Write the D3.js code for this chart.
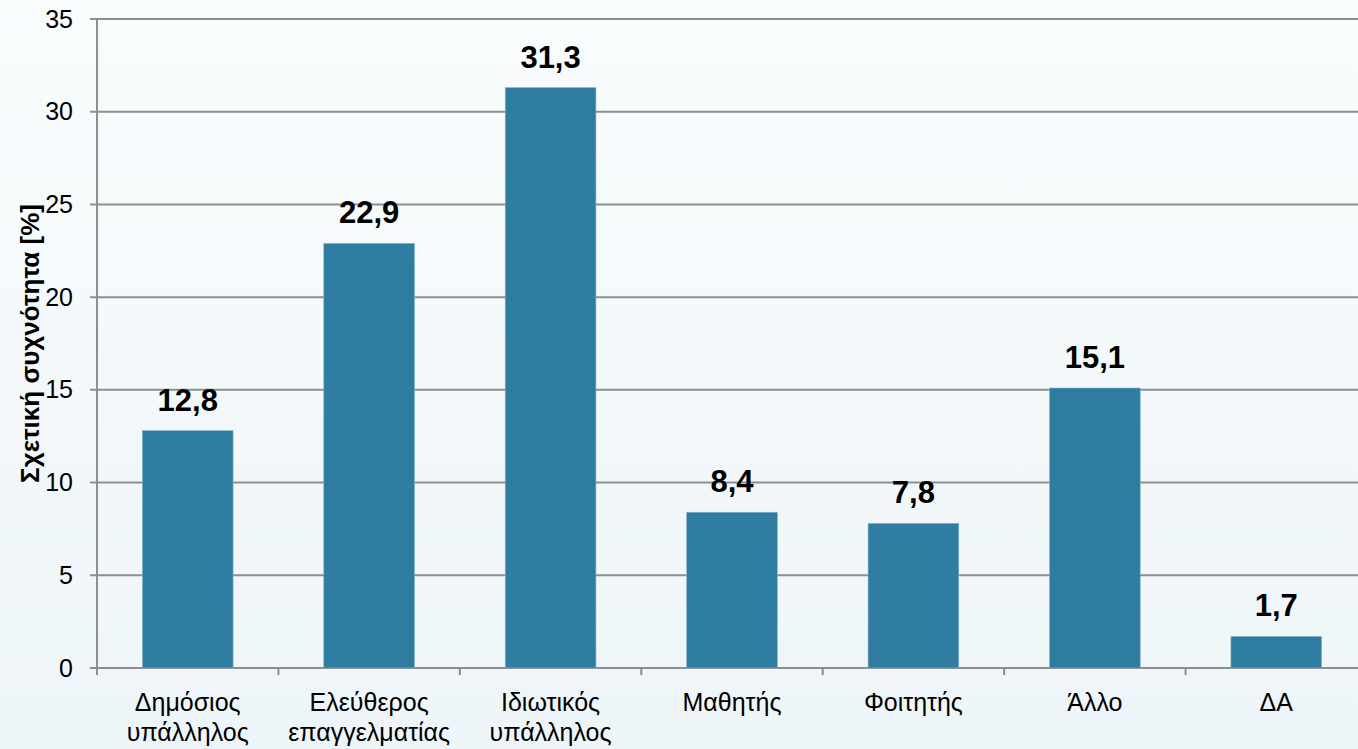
<!DOCTYPE html>
<html>
<head>
<meta charset="utf-8">
<script src="https://cdn.jsdelivr.net/npm/d3@7"></script>
<style>
  body { margin: 0; overflow: hidden; }
  text { font-family: "Liberation Sans", Arial, sans-serif; }
</style>
</head>
<body>
<div id="chart"></div>
<script>
// data
var categories = [["Δημόσιος", "υπάλληλος"], ["Ελεύθερος", "επαγγελματίας"], ["Ιδιωτικός", "υπάλληλος"],
  ["Μαθητής"], ["Φοιτητής"], ["Άλλο"], ["ΔΑ"]];
var values = [12.8, 22.9, 31.3, 8.4, 7.8, 15.1, 1.7];
var yTicks = [0, 5, 10, 15, 20, 25, 30, 35];
var yTitle = "Σχετική συχνότητα [%]";

var svgWidth = 1358;
var svgHeight = 749;

var margin = { top: 19, right: -9, bottom: 81, left: 97 };
var width = svgWidth - margin.left - margin.right;
var height = svgHeight - margin.top - margin.bottom;

var svg = d3.select("#chart")
  .append("svg")
  .attr("width", svgWidth)
  .attr("height", svgHeight);

// soft background
var defs = svg.append("defs");
var grad = defs.append("linearGradient")
  .attr("id", "bg")
  .attr("x1", "0").attr("y1", "0")
  .attr("x2", "0").attr("y2", "1");
grad.append("stop").attr("offset", "0%").attr("stop-color", "#f8fcfd");
grad.append("stop").attr("offset", "100%").attr("stop-color", "#eef5f8");

svg.append("rect")
  .attr("width", svgWidth)
  .attr("height", svgHeight)
  .attr("fill", "url(#bg)");

var chartGroup = svg.append("g")
  .attr("transform", `translate(${margin.left}, ${margin.top})`);

var xScale = d3.scaleBand()
  .domain(d3.range(categories.length))
  .range([0, width])
  .paddingInner(0.5)
  .paddingOuter(0.25);

var yScale = d3.scaleLinear()
  .domain([0, 35])
  .range([height, 0]);

// gridlines
chartGroup.selectAll(".grid")
  .data(yTicks)
  .enter()
  .append("line")
  .attr("x1", -7)
  .attr("x2", width)
  .attr("y1", d => yScale(d))
  .attr("y2", d => yScale(d))
  .attr("stroke", "#8e8e8e")
  .attr("stroke-width", 2);

// y axis
var leftAxis = d3.axisLeft(yScale)
  .tickValues(yTicks)
  .tickSize(0)
  .tickPadding(24);

var yAxis = chartGroup.append("g").call(leftAxis);
yAxis.select(".domain").remove();
yAxis.selectAll("text")
  .style("font-size", "25px")
  .attr("fill", "#000");

chartGroup.append("line")
  .attr("x1", 0).attr("x2", 0)
  .attr("y1", 0).attr("y2", height + 7)
  .attr("stroke", "#8e8e8e")
  .attr("stroke-width", 2);

// x tick marks at band boundaries
var boundaries = d3.range(categories.length + 1).map(i => i * xScale.step());
chartGroup.selectAll(".xtick")
  .data(boundaries)
  .enter()
  .append("line")
  .attr("x1", d => d).attr("x2", d => d)
  .attr("y1", height).attr("y2", height + 7)
  .attr("stroke", "#8e8e8e")
  .attr("stroke-width", 2);

// bars
chartGroup.selectAll(".bar")
  .data(values)
  .enter()
  .append("rect")
  .attr("x", (d, i) => xScale(i))
  .attr("y", d => yScale(d))
  .attr("width", xScale.bandwidth())
  .attr("height", d => height - yScale(d))
  .attr("fill", "#2e7ca0")
  .attr("stroke", "#86b6cc")
  .attr("stroke-width", 0.6);

// value labels
chartGroup.selectAll(".val")
  .data(values)
  .enter()
  .append("text")
  .attr("x", (d, i) => xScale(i) + xScale.bandwidth() / 2)
  .attr("y", d => yScale(d) - 20)
  .style("font-size", "31px")
  .style("font-weight", "bold")
  .style("text-anchor", "middle")
  .text(d => String(d).replace(".", ","));

// category labels
var catText = chartGroup.selectAll(".cat")
  .data(categories)
  .enter()
  .append("text")
  .attr("x", (d, i) => xScale(i) + xScale.bandwidth() / 2)
  .attr("y", height + 43)
  .style("font-size", "25px")
  .style("text-anchor", "middle");

catText.selectAll("tspan")
  .data(d => d)
  .enter()
  .append("tspan")
  .attr("x", function () { return d3.select(this.parentNode).attr("x"); })
  .attr("dy", (d, i) => i === 0 ? 0 : 30)
  .text(d => d);

// y axis title
svg.append("text")
  .attr("transform", `translate(39, ${margin.top + height / 2}) rotate(-90)`)
  .style("font-size", "26px")
  .style("font-weight", "bold")
  .style("text-anchor", "middle")
  .text(yTitle);
</script>
</body>
</html>
